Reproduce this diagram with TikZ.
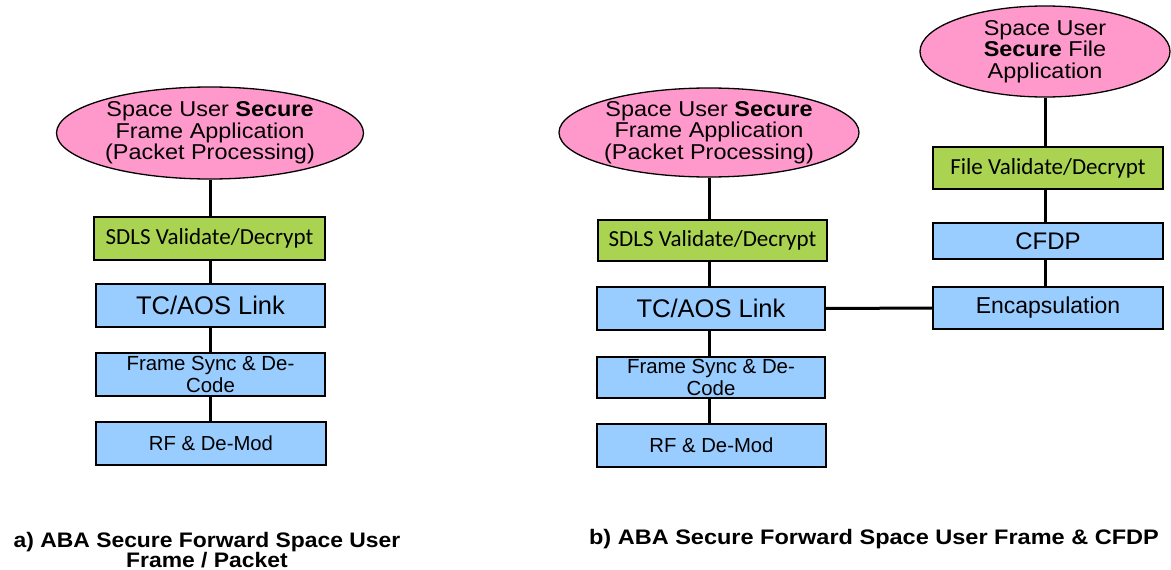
\documentclass[tikz,border=0pt]{standalone}
\usepackage{fontspec}
\setmainfont{Liberation Sans}
\newfontfamily\widefont[FakeStretch=1.09]{Liberation Sans}
\newfontfamily\widerfont[FakeStretch=1.12]{Liberation Sans}
\newfontfamily\calfont{Carlito}
\usetikzlibrary{shapes.geometric}
\definecolor{apppink}{HTML}{FF99CC}
\definecolor{secgreen}{HTML}{A9D350}
\definecolor{layerblue}{HTML}{99CCFF}
\begin{document}
\begin{tikzpicture}[x=1pt,y=-1pt,
  app/.style={ellipse, draw, line width=1.3pt, fill=apppink, inner sep=0pt, align=center,
    font=\widefont\fontsize{21.5}{21.7}\selectfont},
  secbox/.style={rectangle, draw, line width=1.3pt, fill=secgreen, inner sep=0pt,
    font=\calfont\fontsize{23}{26}\selectfont},
  layerbox/.style={rectangle, draw, line width=1.3pt, fill=layerblue, inner sep=0pt, align=center},
  bigtxt/.style={font=\fontsize{24}{26}\selectfont},
  smalltxt/.style={font=\fontsize{20.4}{22.5}\selectfont},
  link/.style={line width=3pt},
  capt/.style={align=center, font=\widefont\bfseries\fontsize{21}{18.3}\selectfont}]
\useasboundingbox (0,0) rectangle (1171,570);

% ---- panel a ----
\node[app, minimum width=307pt, minimum height=92pt] (e1) at (210,133)
  {Space User \textbf{Secure}\\Frame Application\\(Packet Processing)};
\node[secbox, minimum width=231pt, minimum height=43pt] (s1) at (209.5,238.5) {SDLS Validate/Decrypt};
\node[layerbox, minimum width=229pt, minimum height=43pt, font=\fontsize{25.5}{27}\selectfont] (t1) at (210.5,305.5) {TC/AOS Link};
\node[layerbox, smalltxt, minimum width=229pt, minimum height=43pt] (f1) at (210.5,374.5) {Frame Sync \& De-\\Code};
\node[layerbox, minimum width=230pt, minimum height=43pt, font=\fontsize{20.3}{22}\selectfont] (r1) at (211,443.5) {RF \& De-Mod};

\draw[link] (e1.south) -- (e1.south |- s1.north);
\draw[link] (e1.south |- s1.south) -- (e1.south |- t1.north);
\draw[link] (e1.south |- t1.south) -- (e1.south |- f1.north);
\draw[link] (e1.south |- f1.south) -- (e1.south |- r1.north);

% ---- panel b ----
\node[app, minimum width=300pt, minimum height=89pt] (e2) at (709,132.5)
  {Space User \textbf{Secure}\\Frame Application\\(Packet Processing)};
\node[secbox, minimum width=229pt, minimum height=41pt] (s2) at (712.5,240.5) {SDLS Validate/Decrypt};
\node[layerbox, minimum width=228pt, minimum height=43pt, font=\fontsize{25.5}{27}\selectfont] (t2) at (711,308.5) {TC/AOS Link};
\node[layerbox, smalltxt, minimum width=228pt, minimum height=41pt] (f2) at (711,377.5) {Frame Sync \& De-\\Code};
\node[layerbox, minimum width=229pt, minimum height=43pt, font=\fontsize{20.3}{22}\selectfont] (r2) at (711.5,445.5) {RF \& De-Mod};

\node[app, minimum width=250pt, minimum height=91pt] (e3) at (1045,51.5)
  {Space User\\\textbf{Secure} File\\Application};
\node[secbox, minimum width=230pt, minimum height=42pt] (fv) at (1048,168) {File Validate/Decrypt};
\node[layerbox, bigtxt, minimum width=230pt, minimum height=36pt] (cf) at (1048,241) {CFDP};
\node[layerbox, font=\fontsize{23}{25}\selectfont, minimum width=230pt, minimum height=42pt] (en) at (1048,308) {Encapsulation};

\draw[link] (e2.south) -- (e2.south |- s2.north);
\draw[link] (e2.south |- s2.south) -- (e2.south |- t2.north);
\draw[link] (e2.south |- t2.south) -- (e2.south |- f2.north);
\draw[link] (e2.south |- f2.south) -- (e2.south |- r2.north);

\draw[link] (e3.south) -- (e3.south |- fv.north);
\draw[link] (e3.south |- fv.south) -- (e3.south |- cf.north);
\draw[link] (e3.south |- cf.south) -- (e3.south |- en.north);
\draw[link] (t2.east) -- (en.west);

% ---- captions ----
\node[capt] (capa) at (207,550) {a) ABA Secure Forward Space User\\Frame / Packet};
\node[capt, font=\widerfont\bfseries\fontsize{21}{18.3}\selectfont] (capb) at (874,539.5) {b) ABA Secure Forward Space User Frame \& CFDP};
\end{tikzpicture}
\end{document}
